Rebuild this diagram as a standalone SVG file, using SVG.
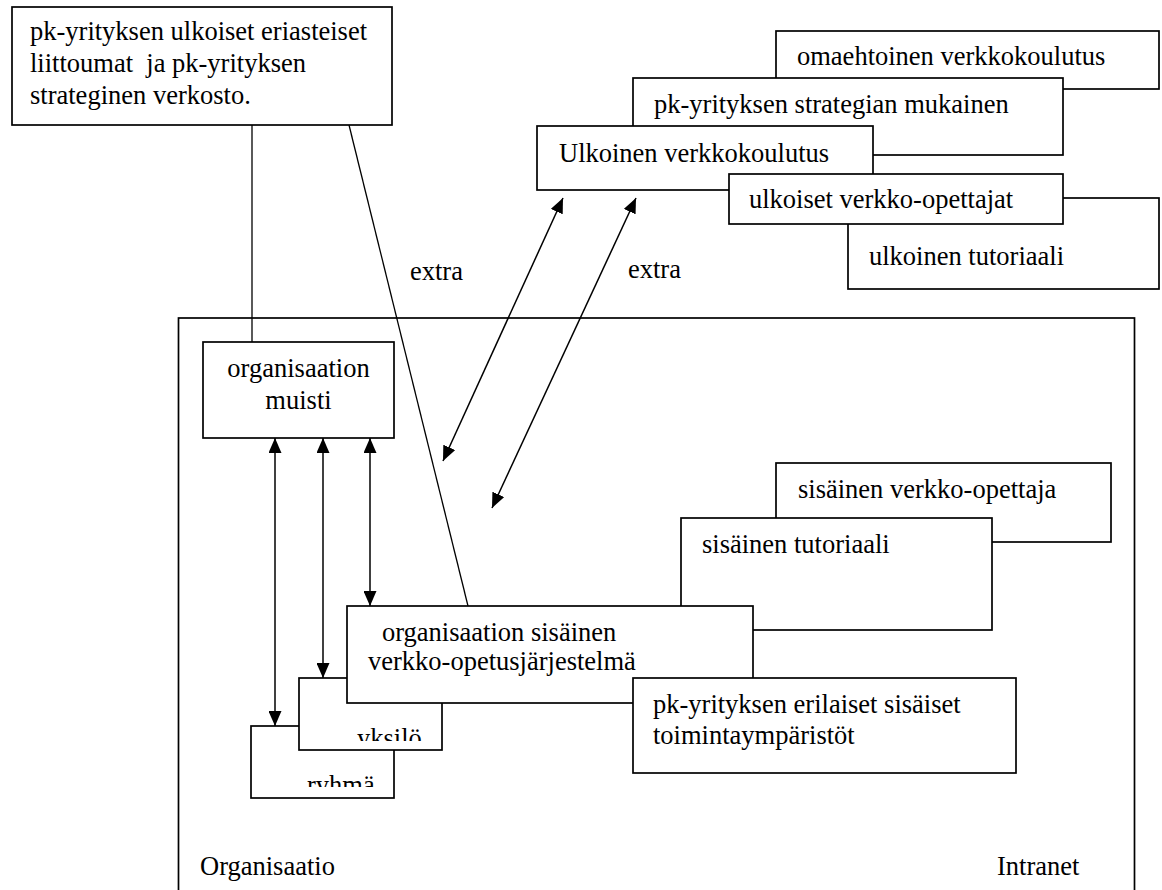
<svg xmlns="http://www.w3.org/2000/svg" width="1162" height="890" viewBox="0 0 1162 890" font-family="'Liberation Serif', 'DejaVu Serif', 'Times New Roman', serif">
  <style>
    .box { fill: #ffffff; stroke: #000000; stroke-width: 1.7; }
    .frame { fill: none; stroke: #000000; stroke-width: 1.7; }
    .link { fill: none; stroke: #000000; stroke-width: 1.3; }
    .arrow { fill: none; stroke: #000000; stroke-width: 1.5; marker-start: url(#head); marker-end: url(#head); }
    .t { font-family: 'Liberation Serif', 'DejaVu Serif', 'Times New Roman', serif; font-size: 26.5px; fill: #000000; }
  </style>
  <defs>
    <marker id="head" markerUnits="userSpaceOnUse" viewBox="0 0 15 13" markerWidth="15" markerHeight="13" refX="15" refY="6.5" orient="auto-start-reverse">
      <path d="M0,0 L15,6.5 L0,13 Z" fill="#000000"/>
    </marker>
    <clipPath id="clip-yksilo"><rect x="300" y="679" width="142" height="62"/></clipPath>
    <clipPath id="clip-ryhma"><rect x="252" y="727" width="141" height="60"/></clipPath>
  </defs>

  <!-- Organisation frame (open at the bottom) -->
  <g id="organisaatio">
    <rect class="frame" x="178.5" y="318" width="956" height="600"/>
    <text class="t" x="200" y="875">Organisaatio</text>
    <text class="t" x="997" y="875">Intranet</text>
  </g>

  <!-- Links and two-way arrows -->
  <g id="connectors">
    <line class="link" x1="252" y1="125" x2="252" y2="342"/>
    <line class="link" x1="349" y1="125" x2="468" y2="606"/>
    <line class="arrow" x1="275" y1="438" x2="275" y2="726"/>
    <line class="arrow" x1="323" y1="438" x2="323" y2="678"/>
    <line class="arrow" x1="370" y1="438" x2="370" y2="606"/>
    <line class="arrow" x1="563" y1="198" x2="443" y2="461"/>
    <line class="arrow" x1="636" y1="198" x2="492" y2="508"/>
    <text class="t" x="410" y="280">extra</text>
    <text class="t" x="628" y="278">extra</text>
  </g>

  <!-- External alliances -->
  <g id="liittoumat">
    <rect class="box" x="12" y="7" width="380" height="118"/>
    <text class="t" x="30" y="40">pk-yrityksen ulkoiset eriasteiset</text>
    <text class="t" x="30" y="72" xml:space="preserve">liittoumat  ja pk-yrityksen</text>
    <text class="t" x="30" y="104">strateginen verkosto.</text>
  </g>

  <!-- External e-learning stack -->
  <g id="omaehtoinen">
    <rect class="box" x="776" y="31" width="383" height="58"/>
    <text class="t" x="797" y="65">omaehtoinen verkkokoulutus</text>
  </g>
  <g id="strategian-mukainen">
    <rect class="box" x="633" y="78" width="430" height="77"/>
    <text class="t" x="654" y="113">pk-yrityksen strategian mukainen</text>
  </g>
  <g id="ulkoinen-verkkokoulutus">
    <rect class="box" x="537" y="126" width="336" height="64"/>
    <text class="t" x="559" y="162">Ulkoinen verkkokoulutus</text>
  </g>
  <g id="ulkoinen-tutoriaali">
    <rect class="box" x="848" y="198" width="311" height="91"/>
    <text class="t" x="869" y="265">ulkoinen tutoriaali</text>
  </g>
  <g id="ulkoiset-opettajat">
    <rect class="box" x="729" y="174" width="334" height="50"/>
    <text class="t" x="749" y="208">ulkoiset verkko-opettajat</text>
  </g>

  <!-- Organisational memory -->
  <g id="muisti">
    <rect class="box" x="203" y="342" width="191" height="96"/>
    <text class="t" x="298.5" y="377" text-anchor="middle">organisaation</text>
    <text class="t" x="298.5" y="409" text-anchor="middle">muisti</text>
  </g>

  <!-- Group and individual -->
  <g id="ryhma">
    <rect class="box" x="251" y="726" width="143" height="72"/>
    <text class="t" x="307" y="794" clip-path="url(#clip-ryhma)">ryhmä</text>
  </g>
  <g id="yksilo">
    <rect class="box" x="299" y="678" width="143" height="72"/>
    <text class="t" x="357" y="747" clip-path="url(#clip-yksilo)">yksilö</text>
  </g>

  <!-- Internal e-learning stack -->
  <g id="sisainen-opettaja">
    <rect class="box" x="776" y="463" width="335" height="79"/>
    <text class="t" x="798" y="498">sisäinen verkko-opettaja</text>
  </g>
  <g id="sisainen-tutoriaali">
    <rect class="box" x="681" y="518" width="311" height="112"/>
    <text class="t" x="702" y="553">sisäinen tutoriaali</text>
  </g>
  <g id="opetusjarjestelma">
    <rect class="box" x="347" y="606" width="406" height="97"/>
    <text class="t" x="382" y="641">organisaation sisäinen</text>
    <text class="t" x="368" y="670">verkko-opetusjärjestelmä</text>
  </g>
  <g id="toimintaymparistot">
    <rect class="box" x="633" y="678" width="383" height="95"/>
    <text class="t" x="653" y="713">pk-yrityksen erilaiset sisäiset</text>
    <text class="t" x="653" y="744">toimintaympäristöt</text>
  </g>
</svg>
